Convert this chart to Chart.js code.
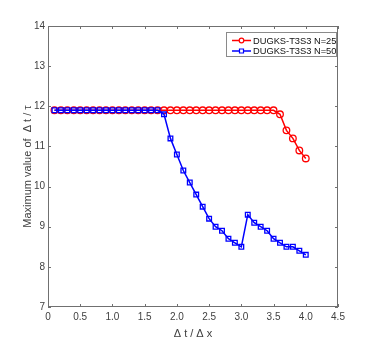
<!DOCTYPE html>
<html><head><meta charset="utf-8">
<script src="https://cdn.jsdelivr.net/npm/chart.js@4.4.1/dist/chart.umd.min.js"></script>
<style>html,body{margin:0;padding:0;background:#fff}#wrap{width:374px;height:346px}</style>
</head><body><div id="wrap"><canvas id="c" width="374" height="346"></canvas></div>
<script>
const xValues = [0.1,0.2,0.3,0.4,0.5,0.6,0.7,0.8,0.9,1.0,1.1,1.2,1.3,1.4,1.5,1.6,1.7,1.8,1.9,2.0,2.1,2.2,2.3,2.4,2.5,2.6,2.7,2.8,2.9,3.0,3.1,3.2,3.3,3.4,3.5,3.6,3.7,3.8,3.9,4.0];
const n25Values = [11.9,11.9,11.9,11.9,11.9,11.9,11.9,11.9,11.9,11.9,11.9,11.9,11.9,11.9,11.9,11.9,11.9,11.9,11.9,11.9,11.9,11.9,11.9,11.9,11.9,11.9,11.9,11.9,11.9,11.9,11.9,11.9,11.9,11.9,11.9,11.8,11.4,11.2,10.9,10.7];
const n50Values = [11.9,11.9,11.9,11.9,11.9,11.9,11.9,11.9,11.9,11.9,11.9,11.9,11.9,11.9,11.9,11.9,11.9,11.8,11.2,10.8,10.4,10.1,9.8,9.5,9.2,9.0,8.9,8.7,8.6,8.5,9.3,9.1,9.0,8.9,8.7,8.6,8.5,8.5,8.4,8.3];
const seriesLabels = ['DUGKS-T3S3 N=25','DUGKS-T3S3 N=50'];
const xTicks = [0,0.5,1,1.5,2,2.5,3,3.5,4,4.5];
const yTicks = [7,8,9,10,11,12,13,14];

const FONT = '"Liberation Sans", Arial, sans-serif';
const AX = '#707070';
const TXT = '#404040';

const framePlugin = {
  id: 'frame',
  afterDraw(chart) {
    const ctx = chart.ctx, a = chart.chartArea;
    const xs = chart.scales.x, ys = chart.scales.y;
    ctx.save();
    ctx.strokeStyle = AX; ctx.lineWidth = 1;
    ctx.strokeRect(a.left + 0.5, a.top + 0.5, a.right - a.left - 1, a.bottom - a.top - 1);
    ctx.beginPath();
    xTicks.forEach(v => {
      const px = Math.round(xs.getPixelForValue(v)) + 0.5;
      ctx.moveTo(px, a.bottom); ctx.lineTo(px, a.bottom - 3);
      ctx.moveTo(px, a.top); ctx.lineTo(px, a.top + 3);
    });
    yTicks.forEach(v => {
      const py = Math.round(ys.getPixelForValue(v)) + 0.5;
      ctx.moveTo(a.left, py); ctx.lineTo(a.left + 3, py);
      ctx.moveTo(a.right, py); ctx.lineTo(a.right - 3, py);
    });
    ctx.stroke();
    // legend
    const lx = 226, ly = 32, lw = 110, lh = 24;
    ctx.fillStyle = '#fff';
    ctx.fillRect(lx, ly, lw, lh);
    ctx.strokeStyle = '#8a8a8a';
    ctx.strokeRect(lx + 0.5, ly + 0.5, lw, lh);
    const ds = chart.data.datasets;
    [0, 1].forEach((i, r) => {
      const d = ds[i];
      const cy = ly + 8.5 + r * 10.5;
      ctx.strokeStyle = d.borderColor; ctx.lineWidth = 1.5;
      ctx.beginPath(); ctx.moveTo(lx + 6, cy); ctx.lineTo(lx + 25, cy); ctx.stroke();
      ctx.beginPath();
      if (d.pointStyle === 'circle') ctx.arc(lx + 15.5, cy, 2.3, 0, Math.PI * 2);
      else ctx.rect(lx + 13.5, cy - 2, 4, 4);
      ctx.fillStyle = '#fff'; ctx.fill(); ctx.lineWidth = 1.2; ctx.stroke();
      ctx.fillStyle = '#111';
      ctx.font = '9.3px ' + FONT;
      ctx.textBaseline = 'middle'; ctx.textAlign = 'left';
      ctx.fillText(d.label, lx + 27, cy + 0.5);
    });
    ctx.restore();
  }
};

const mk = (vals) => xValues.map((x, i) => ({x, y: vals[i]}));

new Chart(document.getElementById('c'), {
  type: 'line',
  data: {
    datasets: [
      {label: seriesLabels[0], data: mk(n25Values), borderColor: '#ff0000', backgroundColor: 'rgba(0,0,0,0)',
       pointStyle: 'circle', pointRadius: 3.3, pointBorderWidth: 1.3, pointBorderColor: '#ff0000', pointBackgroundColor: 'rgba(0,0,0,0)', borderWidth: 1.5, order: 2},
      {label: seriesLabels[1], data: mk(n50Values), borderColor: '#0000ff', backgroundColor: 'rgba(0,0,0,0)',
       pointStyle: 'rect', pointRadius: 3.3, pointBorderWidth: 1.3, pointBorderColor: '#0000ff', pointBackgroundColor: 'rgba(0,0,0,0)', borderWidth: 1.5, order: 1}
    ]
  },
  options: {
    responsive: false, animation: false, devicePixelRatio: 1,
    layout: {padding: {top: 26, right: 36, left: 16, bottom: 5}},
    plugins: {legend: {display: false}, tooltip: {enabled: false}},
    scales: {
      x: {type: 'linear', min: 0, max: 4.5,
          afterBuildTicks: s => { s.ticks = xTicks.map(v => ({value: v})); },
          afterFit: s => { s.height = 34; },
          grid: {display: false, drawTicks: false}, border: {display: false},
          ticks: {padding: 4, color: TXT, font: {family: FONT, size: 10}, maxRotation: 0, autoSkip: false},
          title: {display: true, text: 'Δ t / Δ x', color: TXT, font: {family: FONT, size: 11}, padding: {top: 0, bottom: 0}}},
      y: {type: 'linear', min: 7, max: 14,
          afterBuildTicks: s => { s.ticks = yTicks.map(v => ({value: v})); },
          afterFit: s => { s.width = 32; },
          grid: {display: false, drawTicks: false}, border: {display: false},
          ticks: {padding: 3, color: TXT, font: {family: FONT, size: 10}, autoSkip: false},
          title: {display: true, text: 'Maximum value of  Δ t / τ', color: TXT, font: {family: FONT, size: 11}, padding: {top: 5, bottom: 0}}}
    }
  },
  plugins: [framePlugin]
});
</script></body></html>
